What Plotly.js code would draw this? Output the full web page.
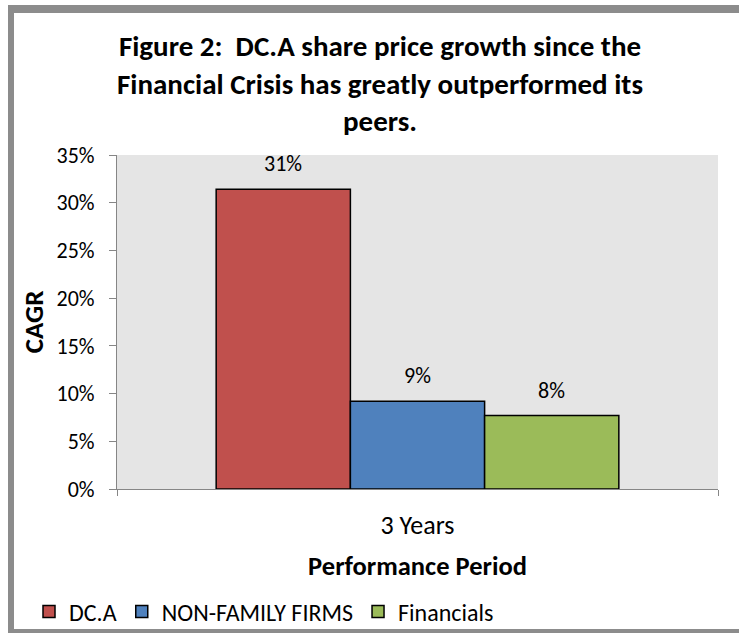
<!DOCTYPE html>
<html>
<head>
<meta charset="utf-8">
<script src="https://cdn.plot.ly/plotly-3.0.1.min.js"></script>
<style>
  html, body { margin: 0; padding: 0; background: #fff; overflow: hidden; }
  #wrap { position: relative; width: 739px; height: 633px; overflow: hidden; }
  #chart { position: absolute; left: 0; top: 0; width: 739px; height: 633px; }
  #frame { position: absolute; left: 8px; top: 5px; width: 800px; height: 632px;
           box-sizing: border-box; border-style: solid; border-color: #8c8c8c;
           border-width: 8px 8px 8px 6px; pointer-events: none; }
</style>
</head>
<body>
<div id="wrap">
  <div id="chart"></div>
  <div id="frame"></div>
</div>
<script>
// ---- data ----
const categories = ["3 Years"];
const seriesNames = ["DC.A", "NON-FAMILY FIRMS", "Financials"];
const dcaValues = [0.314];
const nonFamilyValues = [0.092];
const financialsValues = [0.077];
const yTickValues = [0, 0.05, 0.10, 0.15, 0.20, 0.25, 0.30, 0.35];

const seriesValues = [dcaValues, nonFamilyValues, financialsValues];
const colors = ["#c0504d", "#4f81bd", "#9bbb59"];
const FONT = "Calibri, Carlito, Lato, sans-serif";
const BARGAP = 0.33;

const traces = seriesValues.map((vals, i) => ({
  type: "bar",
  name: seriesNames[i],
  x: categories,
  y: vals,
  marker: { color: colors[i], line: { color: "#000", width: 1.5 } },
  hoverinfo: "skip"
}));

// data labels placed above each bar via the axes' own coordinates
const nS = seriesValues.length;
const barW = (1 - BARGAP) / nS;
const annotations = [];
seriesValues.forEach((vals, i) => {
  vals.forEach((v, j) => {
    annotations.push({
      xref: "x", yref: "y",
      x: j + (i - (nS - 1) / 2) * barW,
      y: v,
      text: Math.round(v * 100) + "%",
      showarrow: false,
      yanchor: "bottom",
      yshift: 10,
      font: { family: FONT, size: 22, color: "#000" }
    });
  });
});

const layout = {
  width: 739, height: 633,
  margin: { l: 117, r: 21, t: 155, b: 144 },
  paper_bgcolor: "rgba(0,0,0,0)",
  plot_bgcolor: "#e5e5e5",
  barmode: "group",
  bargap: BARGAP,
  bargroupgap: 0,
  font: { family: FONT, size: 22, color: "#000" },
  title: {
    text: "Figure 2:&nbsp; DC.A share price growth since the<br>Financial Crisis has greatly outperformed its<br>peers.",
    font: { family: FONT, size: 29, color: "#000", weight: "bold" },
    xref: "container", yref: "container",
    x: 380 / 739, xanchor: "center",
    y: 1 - 56 / 633, yanchor: "top"
  },
  xaxis: {
    type: "category",
    tickson: "boundaries",
    ticks: "outside", ticklen: 6, tickcolor: "#868686", tickwidth: 1,
    showline: true, linecolor: "#868686", linewidth: 1,
    showgrid: false, zeroline: false,
    ticklabelstandoff: 13,
    tickfont: { family: FONT, size: 26, color: "#000" },
    title: { text: "Performance Period", standoff: 16,
             font: { family: FONT, size: 26.5, color: "#000", weight: "bold" } },
    automargin: false, fixedrange: true
  },
  yaxis: {
    range: [0, 0.35],
    tickvals: yTickValues,
    tickformat: ".0%",
    ticks: "outside", ticklen: 7, tickcolor: "#868686", tickwidth: 1,
    showline: true, linecolor: "#868686", linewidth: 1,
    showgrid: false, zeroline: false,
    ticklabelstandoff: 10,
    tickfont: { family: FONT, size: 22, color: "#000" },
    title: { text: "CAGR", standoff: 5,
             font: { family: FONT, size: 27, color: "#000", weight: "bold" } },
    automargin: false, fixedrange: true
  },
  showlegend: true,
  legend: {
    orientation: "h",
    xref: "container", yref: "container",
    x: 29 / 739, xanchor: "left",
    y: 1 - 612 / 633, yanchor: "middle",
    bgcolor: "rgba(0,0,0,0)",
    font: { family: FONT, size: 24, color: "#000" },
    itemwidth: 30,
    traceorder: "normal"
  },
  annotations: annotations
};

Plotly.newPlot("chart", traces, layout, { displayModeBar: false, staticPlot: true });
</script>
</body>
</html>
